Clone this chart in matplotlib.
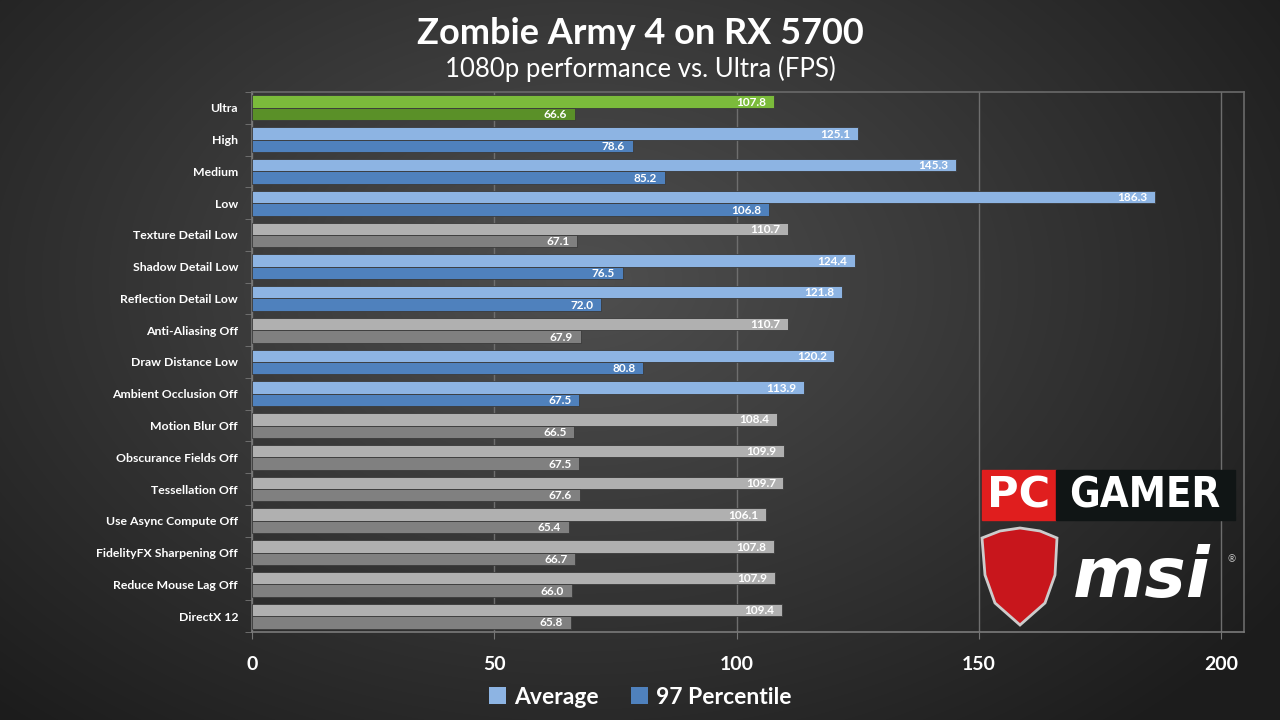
import numpy as np
import matplotlib
matplotlib.use("Agg")
import matplotlib.pyplot as plt
from matplotlib.patches import Rectangle, Polygon, Patch

plt.rcParams['font.family'] = ['Lato', 'DejaVu Sans']

categories = ["Ultra", "High", "Medium", "Low", "Texture Detail Low", "Shadow Detail Low",
              "Reflection Detail Low", "Anti-Aliasing Off", "Draw Distance Low",
              "Ambient Occlusion Off", "Motion Blur Off", "Obscurance Fields Off",
              "Tessellation Off", "Use Async Compute Off", "FidelityFX Sharpening Off",
              "Reduce Mouse Lag Off", "DirectX 12"]
average = [107.8, 125.1, 145.3, 186.3, 110.7, 124.4, 121.8, 110.7, 120.2, 113.9,
           108.4, 109.9, 109.7, 106.1, 107.8, 107.9, 109.4]
percentile97 = [66.6, 78.6, 85.2, 106.8, 67.1, 76.5, 72.0, 67.9, 80.8, 67.5,
                66.5, 67.5, 67.6, 65.4, 66.7, 66.0, 65.8]
groups = ["ultra", "blue", "blue", "blue", "gray", "blue", "blue", "gray", "blue",
          "blue", "gray", "gray", "gray", "gray", "gray", "gray", "gray"]
xticks = [0, 50, 100, 150, 200]
title = "Zombie Army 4 on RX 5700"
subtitle = "1080p performance vs. Ultra (FPS)"
legend_labels = ["Average", "97 Percentile"]

palette = {
    "ultra": ("#7bbb3b", "#5a9028"),
    "blue": ("#8db4e3", "#4f81bd"),
    "gray": ("#b0b0b0", "#808080"),
}

fig = plt.figure(figsize=(12.8, 7.2), dpi=100)

# background radial gradient
bg = fig.add_axes([0, 0, 1, 1], zorder=-10)
yy, xx = np.mgrid[0:720, 0:1280]
d = np.sqrt(((xx - 580) / 900.0) ** 2 + ((yy - 280) / 620.0) ** 2)
v = np.clip(0.31 - 0.21 * d, 0.11, 0.31)
img = np.dstack([v, v, v])
bg.imshow(img, extent=[0, 1280, 720, 0], aspect='auto')
bg.set_xlim(0, 1280)
bg.set_ylim(720, 0)
bg.axis('off')

ax = fig.add_axes([252 / 1280, 1 - 632 / 720, (1244 - 252) / 1280, 540 / 720])
ax.set_facecolor("none")
n = len(categories)
y = np.arange(n)
h = 0.39
xmax = (1244 - 252) / 4.845

for i in range(n):
    c_avg, c_p = palette[groups[i]]
    ax.barh(y[i] - h / 2, average[i], height=h, color=c_avg, edgecolor="#3a3a3a",
            linewidth=0.6, zorder=3)
    ax.barh(y[i] + h / 2, percentile97[i], height=h, color=c_p, edgecolor="#3a3a3a",
            linewidth=0.6, zorder=3)
    ax.text(average[i] - 1.6, y[i] - h / 2 + 0.02, f"{average[i]:.1f}", ha="right",
            va="center", color="white", fontsize=8.5, fontweight="bold", zorder=4)
    ax.text(percentile97[i] - 1.6, y[i] + h / 2 + 0.02, f"{percentile97[i]:.1f}", ha="right",
            va="center", color="white", fontsize=8.5, fontweight="bold", zorder=4)

ax.set_xlim(0, xmax)
ax.set_ylim(n - 0.5, -0.5)
ax.set_xticks(xticks)
ax.set_xticklabels([str(t) for t in xticks])
ax.set_yticks(y)
ax.set_yticklabels(categories)
ax.set_yticks(np.arange(n + 1) - 0.5, minor=True)
ax.tick_params(axis='y', which='major', length=0, pad=10, labelcolor="white", labelsize=8.8)
ax.tick_params(axis='y', which='minor', length=5, color="#777777", direction='out')
ax.tick_params(axis='x', length=5, color="#777777", pad=12, labelcolor="white", labelsize=14)
for lbl in ax.get_xticklabels() + ax.get_yticklabels():
    lbl.set_fontweight("bold")
ax.grid(axis='x', color="#6e6e6e", linewidth=1.0, zorder=0)
for s in ["top", "right"]:
    ax.spines[s].set_color("#6a6a6a")
    ax.spines[s].set_linewidth(1.2)
for s in ["left", "bottom"]:
    ax.spines[s].set_color("#7a7a7a")
    ax.spines[s].set_linewidth(1.2)

fig.text(0.5, 1 - 33 / 720, title, ha="center", va="center", color="white",
         fontsize=26, fontweight="bold")
fig.text(0.5, 1 - 69 / 720, subtitle, ha="center", va="center", color="white",
         fontsize=18.5)

handles = [Patch(facecolor=palette["blue"][0]), Patch(facecolor=palette["blue"][1])]
leg = fig.legend(handles, legend_labels, loc="center", bbox_to_anchor=(0.5, 1 - 697 / 720),
                 ncol=2, frameon=False, fontsize=16.5, handlelength=0.75, handleheight=0.75,
                 handletextpad=0.35, columnspacing=1.4)
for t in leg.get_texts():
    t.set_color("white")
    t.set_fontweight("bold")

# logos (decorative)
lg = fig.add_axes([0, 0, 1, 1], zorder=5)
lg.set_xlim(0, 1280)
lg.set_ylim(720, 0)
lg.axis('off')
lg.add_patch(Rectangle((982, 470), 74, 50, color="#e01e1e"))
lg.add_patch(Rectangle((1056, 470), 179, 50, color="#101515"))
lg.text(1019, 496, "PC", color="white", fontsize=31, fontweight="heavy", ha="center",
        va="center", family="DejaVu Sans")
lg.text(1145, 496, "GAMER", color="white", fontsize=30, fontweight="heavy", ha="center",
        va="center", family="DejaVu Sans", fontstretch="condensed")
shield = [(982, 538), (1000, 531), (1020, 528), (1040, 531), (1057, 538),
          (1055, 575), (1045, 603), (1020, 625), (995, 603), (985, 575)]
lg.add_patch(Polygon(shield, closed=True, facecolor="#c8161c", edgecolor="#cccccc",
                     linewidth=2))
lg.text(1142, 577, "msi", color="white", fontsize=50, fontweight="heavy",
        style="italic", ha="center", va="center", family="DejaVu Sans")
lg.text(1232, 560, "®", color="#cccccc", fontsize=7, ha="center", va="center")

fig.savefig("out.png", dpi=100)
